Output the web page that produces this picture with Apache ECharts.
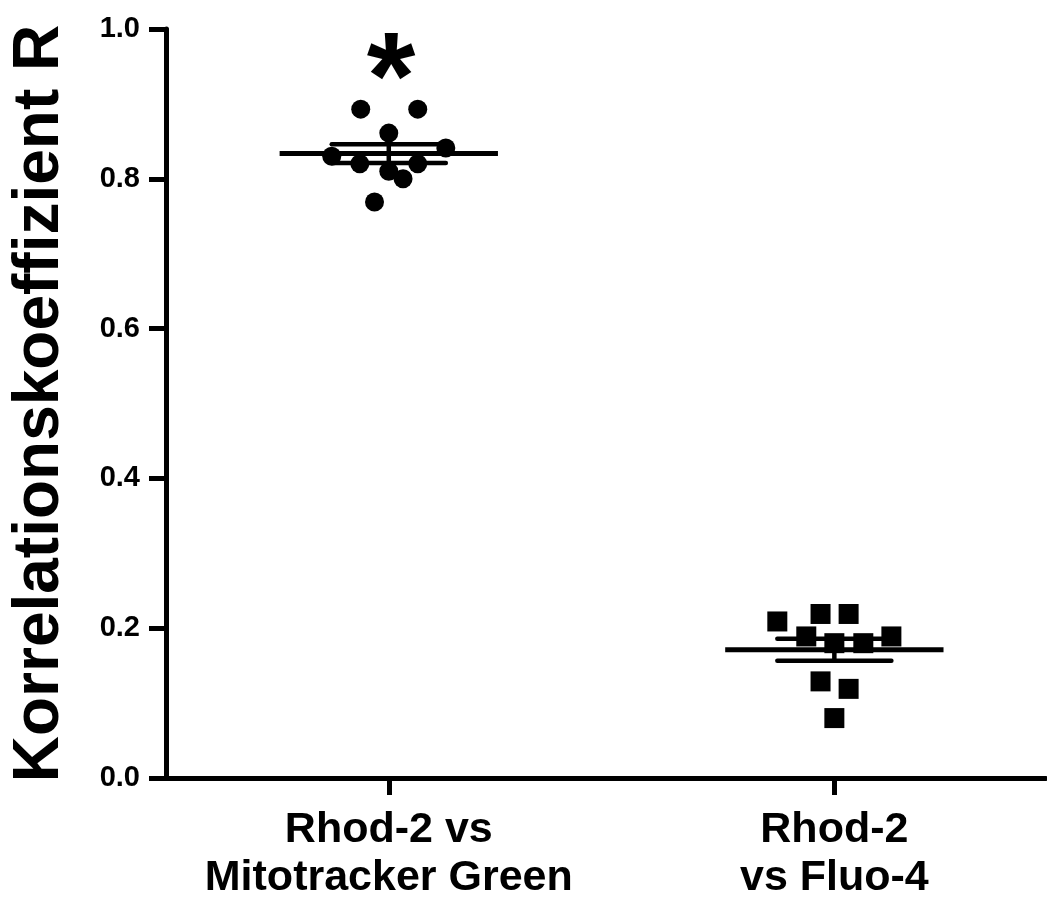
<!DOCTYPE html>
<html>
<head>
<meta charset="utf-8">
<script src="https://cdn.jsdelivr.net/npm/echarts@6/dist/echarts.min.js"></script>
<style>
  html, body { margin: 0; padding: 0; background: #fff; }
  #chart { width: 1047px; height: 898px; }
</style>
</head>
<body>
<div id="chart"></div>
<script>
// Group names (x axis labels)
const groups = ['Rhod-2 vs\nMitotracker Green', 'Rhod-2\nvs Fluo-4'];

// Correlation values
const mitoValues  = [0.893, 0.893, 0.861, 0.830, 0.841, 0.820, 0.820, 0.810, 0.800, 0.769];
const fluoValues  = [0.209, 0.219, 0.219, 0.189, 0.189, 0.180, 0.180, 0.129, 0.119, 0.080];

// Horizontal scatter of each point within its column (in category units)
const mitoJitter  = [-0.063, 0.065, 0, -0.128, 0.128, -0.065, 0.065, 0, 0.032, -0.032];
const fluoJitter  = [-0.128, -0.031, 0.032, -0.063, 0.128, 0, 0.065, -0.031, 0.032, 0];

// Significance marker
const signif = [[0.005, 0.963, '*']];

const FONT = '"Liberation Sans", Arial, Helvetica, sans-serif';

function mean(a) { return a.reduce((s, v) => s + v, 0) / a.length; }
function sem(a) {
  const m = mean(a);
  const v = a.reduce((s, x) => s + (x - m) * (x - m), 0) / (a.length - 1);
  return Math.sqrt(v) / Math.sqrt(a.length);
}

// summary rows: [group index, mean, sem]
const summary = [
  [0, mean(mitoValues), sem(mitoValues)],
  [1, mean(fluoValues), sem(fluoValues)]
];

const chart = echarts.init(document.getElementById('chart'));

chart.setOption({
  backgroundColor: '#fff',
  animation: false,
  grid: { left: 166, right: 1, top: 29, bottom: 120, containLabel: false, outerBoundsMode: 'none' },
  xAxis: {
    type: 'value',
    min: -0.5,
    max: 1.475,
    splitLine: { show: false },
    axisLine: { onZero: false, lineStyle: { color: '#000', width: 5 } },
    axisTick: {
      show: true, length: 17, inside: false,
      customValues: [0, 1],
      lineStyle: { color: '#000', width: 5 }
    },
    axisLabel: {
      customValues: [0, 1],
      margin: 28,
      color: '#000',
      fontFamily: FONT,
      fontWeight: 'bold',
      fontSize: 43,
      lineHeight: 48,
      formatter: v => groups[Math.round(v)]
    }
  },
  yAxis: {
    type: 'value',
    min: 0,
    max: 1,
    interval: 0.2,
    name: 'Korrelationskoeffizient R',
    nameLocation: 'middle',
    nameRotate: 90,
    nameGap: 94,
    nameMoveOverlap: false,
    nameTextStyle: { color: '#000', fontFamily: FONT, fontWeight: 'bold', fontSize: 64 },
    splitLine: { show: false },
    axisLine: { show: true, onZero: false, lineStyle: { color: '#000', width: 5 } },
    axisTick: { show: true, length: 17, lineStyle: { color: '#000', width: 5 } },
    axisLabel: {
      margin: 26,
      color: '#000',
      fontFamily: FONT,
      fontWeight: 'bold',
      fontSize: 29,
      formatter: v => v.toFixed(1)
    }
  },
  series: [
    {
      type: 'custom',
      z: 5,
      data: summary,
      renderItem: function (params, api) {
        const g = api.value(0), m = api.value(1), e = api.value(2);
        const meanHalf = 0.245, semHalf = 0.128;
        const a = api.coord([g - meanHalf, m]), b = api.coord([g + meanHalf, m]);
        const ua = api.coord([g - semHalf, m + e]), ub = api.coord([g + semHalf, m + e]);
        const la = api.coord([g - semHalf, m - e]), lb = api.coord([g + semHalf, m - e]);
        const vt = api.coord([g, m + e]), vb = api.coord([g, m - e]);
        const st = { stroke: '#000', lineWidth: 4.5, lineCap: 'round' };
        return {
          type: 'group',
          children: [
            { type: 'line', shape: { x1: a[0], y1: a[1], x2: b[0], y2: b[1] }, style: Object.assign({}, st, { lineWidth: 5, lineCap: 'butt' }) },
            { type: 'line', shape: { x1: ua[0], y1: ua[1], x2: ub[0], y2: ub[1] }, style: st },
            { type: 'line', shape: { x1: la[0], y1: la[1], x2: lb[0], y2: lb[1] }, style: st },
            { type: 'line', shape: { x1: vt[0], y1: vt[1], x2: vb[0], y2: vb[1] }, style: st }
          ]
        };
      }
    },
    {
      name: 'Rhod-2 vs Mitotracker Green',
      type: 'scatter',
      z: 4,
      symbol: 'circle',
      symbolSize: 19,
      itemStyle: { color: '#000', opacity: 1 },
      data: mitoValues.map((v, i) => [0 + mitoJitter[i], v])
    },
    {
      name: 'Rhod-2 vs Fluo-4',
      type: 'scatter',
      z: 4,
      symbol: 'rect',
      symbolSize: 20,
      itemStyle: { color: '#000', opacity: 1 },
      data: fluoValues.map((v, i) => [1 + fluoJitter[i], v])
    },
    {
      type: 'scatter',
      symbolSize: 1,
      silent: true,
      itemStyle: { color: '#000', opacity: 1 },
      data: signif,
      label: {
        show: true,
        position: 'inside',
        formatter: p => p.data[2],
        color: '#000',
        opacity: 1,
        fontFamily: FONT,
        fontWeight: 'bold',
        fontSize: 125,
        offset: [0, 28]
      }
    }
  ]
});
</script>
</body>
</html>
